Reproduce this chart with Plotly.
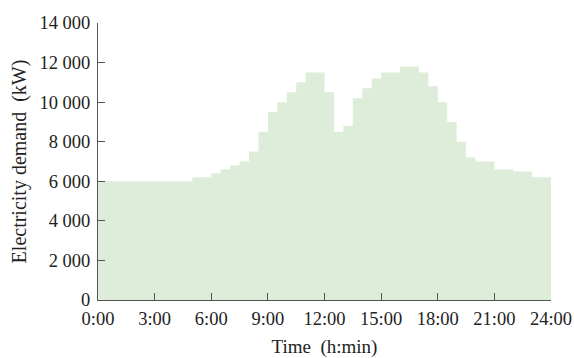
import plotly.graph_objects as go

# Half-hour start times (h) and demand values (kW)
hours = [i * 0.5 for i in range(48)]
demand = [6000] * 10 + [6200, 6200,
          6400, 6600, 6800, 7000, 7500, 8500, 9500, 10000, 10500, 11000, 11500, 11500,
          10500, 8500, 8800, 10200, 10700, 11200,
          11500, 11500, 11800, 11800, 11500, 10800,
          10000, 9000, 8000, 7200, 7000, 7000,
          6600, 6600, 6500, 6500, 6200, 6200]

x_tickvals = [0, 3, 6, 9, 12, 15, 18, 21, 24]
x_ticktext = ["0:00", "3:00", "6:00", "9:00", "12:00", "15:00", "18:00", "21:00", "24:00"]
y_tickvals = [0, 2000, 4000, 6000, 8000, 10000, 12000, 14000]
y_ticktext = ["0", "2 000", "4 000", "6 000", "8 000", "10 000", "12 000", "14 000"]

xs = hours + [24]
ys = demand + [demand[-1]]

fill = "#deedd9"
fig = go.Figure(go.Scatter(
    x=xs, y=ys, mode="lines", line_shape="hv",
    line=dict(width=0, color=fill), fill="tozeroy", fillcolor=fill,
    hoverinfo="skip", cliponaxis=False))

fam = "Liberation Serif, Times New Roman, serif"
tick_font = dict(family=fam, size=18.5, color="#222")
axis_common = dict(showline=True, linecolor="#555", linewidth=1, ticks="inside",
                   ticklen=7, tickcolor="#555", showgrid=False, zeroline=False,
                   tickfont=tick_font, mirror=False, automargin=False)

fig.update_layout(
    width=574, height=358,
    margin=dict(l=98, r=23, t=23, b=58),
    paper_bgcolor="white", plot_bgcolor="white",
    showlegend=False,
    font=dict(family=fam, color="#222"),
    xaxis=dict(range=[0, 24], tickvals=x_tickvals, ticktext=x_ticktext,
               ticklabelstandoff=2,
               title=dict(text="Time  (h:min)", font=dict(family=fam, size=19, color="#222"),
                          standoff=12), **axis_common),
    yaxis=dict(range=[0, 14000], tickvals=y_tickvals, ticktext=y_ticktext,
               ticklabelstandoff=3,
               title=dict(text="Electricity demand  (kW)", font=dict(family=fam, size=20, color="#222"),
                          standoff=7), **axis_common),
)

fig.write_html("out.html", config={"displayModeBar": False},
               post_script="document.body.style.margin='0';document.body.style.padding='0';")
